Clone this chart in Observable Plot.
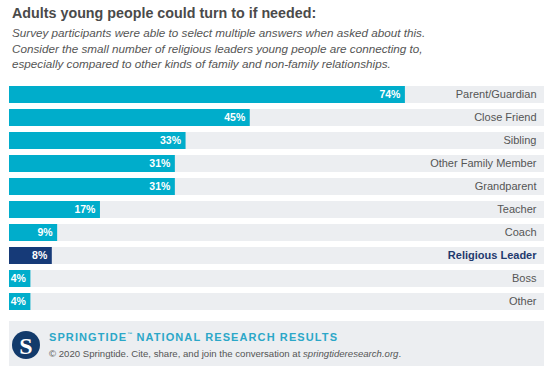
<!DOCTYPE html>
<html><head><meta charset="utf-8">
<script src="https://cdn.jsdelivr.net/npm/d3@7"></script>
<script src="https://cdn.jsdelivr.net/npm/@observablehq/plot@0.6"></script>
<style>
body{margin:0;background:#fff;font-family:"Liberation Sans",Arial,sans-serif;}
#wrap{position:relative;width:550px;height:366px;overflow:hidden;}
#title{position:absolute;left:12px;top:5px;font-size:14.3px;font-weight:bold;color:#4a4a4a;white-space:nowrap;}
#sub{position:absolute;left:12px;top:25px;font-size:11.7px;font-style:italic;color:#555;line-height:15.5px;white-space:nowrap;}
#chart{position:absolute;left:0;top:79px;}
#foot{position:absolute;left:9px;top:321px;width:535px;height:45px;background:#eceef1;}
#logo{position:absolute;left:2px;top:9px;}
#brand{position:absolute;left:40px;top:10px;font-size:11px;font-weight:bold;letter-spacing:1.1px;color:#2ba7c8;white-space:nowrap;}
#brand sup{font-size:5px;letter-spacing:0;vertical-align:5px;}
#copy{position:absolute;left:40px;top:27px;font-size:9.6px;color:#555;white-space:nowrap;}
</style></head>
<body>
<div id="wrap">
  <div id="title">Adults young people could turn to if needed:</div>
  <div id="sub">Survey participants were able to select multiple answers when asked about this.<br>Consider the small number of religious leaders young people are connecting to,<br>especially compared to other kinds of family and non-family relationships.</div>
  <div id="chart"></div>
  <div id="foot">
    <svg id="logo" width="30" height="30" viewBox="0 0 30 30"><circle cx="15" cy="15" r="14" fill="#123a6b"/><text x="15" y="23.5" text-anchor="middle" font-family="Liberation Serif,serif" font-weight="bold" font-size="24" fill="#fff">S</text></svg>
    <div id="brand">SPRINGTIDE<sup>™</sup> NATIONAL RESEARCH RESULTS</div>
    <div id="copy">© 2020 Springtide. Cite, share, and join the conversation at <i>springtideresearch.org</i>.</div>
  </div>
</div>
<script>
const categories = ["Parent/Guardian","Close Friend","Sibling","Other Family Member","Grandparent","Teacher","Coach","Religious Leader","Boss","Other"];
const values = [74,45,33,31,31,17,9,8,4,4];
const highlight = "Religious Leader";

const data = categories.map((c,i)=>({category:c, value:values[i], hi:c===highlight}));

const chart = Plot.plot({
  width:550,
  height:236,
  marginTop:6,
  marginBottom:4,
  marginLeft:9,
  marginRight:6,
  x:{domain:[0,100], axis:null},
  y:{domain:categories, axis:null, paddingInner:0.24, paddingOuter:0},
  style:{fontFamily:"Liberation Sans, Arial, sans-serif", background:"transparent"},
  marks:[
    Plot.barX(data,{y:"category", x1:0, x2:100, fill:"#eceef1"}),
    Plot.barX(data,{y:"category", x1:0, x2:"value", fill:d=>d.hi?"#163a78":"#00adcb"}),
    Plot.text(data,{y:"category", x:"value", text:d=>d.value+"%", textAnchor:"end", dx:-5, dy:-0.5, fill:"#fff", fontWeight:"bold", fontSize:10.5}),
    Plot.text(data.filter(d=>!d.hi),{y:"category", x:100, text:"category", textAnchor:"end", dx:-8, dy:-0.5, fill:"#555", fontSize:11}),
    Plot.text(data.filter(d=>d.hi),{y:"category", x:100, text:"category", textAnchor:"end", dx:-8, dy:-0.5, fill:"#1f3a6e", fontWeight:"bold", fontSize:11})
  ]
});
document.getElementById("chart").appendChild(chart);
</script>
</body></html>
